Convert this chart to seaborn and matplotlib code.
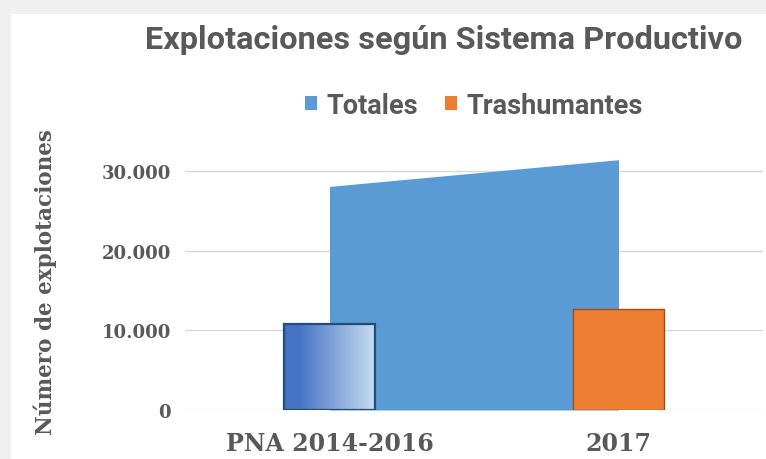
import numpy as np
import pandas as pd
import matplotlib
matplotlib.use('Agg')
import matplotlib.pyplot as plt
from matplotlib.patches import Rectangle, Patch
import seaborn as sns

# data
categories = ['PNA 2014-2016', '2017']
totales = [28050, 31400]
trashumantes = [10800, 12650]
y_ticks = [0, 10000, 20000, 30000]
y_tick_labels = ['0', '10.000', '20.000', '30.000']

sns.set_theme(style='white')
plt.rcParams['font.family'] = ['DejaVu Serif', 'DejaVu Sans']

grey = '#595959'
blue = '#5B9BD5'
orange = '#ED7D31'
narrow = ['Roboto', 'DejaVu Sans']

fig = plt.figure(figsize=(7.66, 4.60), dpi=100, facecolor='#F0F0F0')
# white card over the light grey shadow
fig.patches.append(Rectangle((11 / 766, 0), 1, (460 - 15) / 460, transform=fig.transFigure,
                             facecolor='white', edgecolor='none', zorder=-5))

ax = fig.add_axes([185 / 766, 1 - 411 / 460, (763 - 185) / 766, (411 - 132) / 460])
ax.set_facecolor('none')

df = pd.DataFrame({'periodo': categories, 'Trashumantes': trashumantes})
sns.barplot(data=df, x='periodo', y='Trashumantes', color=orange, width=0.316,
            saturation=1, ax=ax, zorder=3)

bars = ax.patches
# first bar: blue gradient fill, dark blue edge
b0 = bars[0]
b0.set_facecolor('none')
b0.set_edgecolor('#1F4E79')
b0.set_linewidth(1.6)
b0.set_zorder(4)
x0, w, h = b0.get_x(), b0.get_width(), b0.get_height()
grad = np.linspace(0, 1, 256).reshape(1, -1)
cmap = matplotlib.colors.LinearSegmentedColormap.from_list(
    'g', [(0, '#4472C4'), (0.15, '#4472C4'), (1, '#C8DDF1')])
im = ax.imshow(grad, extent=[x0, x0 + w, 0, h], aspect='auto', cmap=cmap, zorder=3)
im.set_clip_path(b0)
bars[1].set_edgecolor('#A34A16')
bars[1].set_linewidth(1.0)

# Totales as area between the two categories
ax.fill_between([0, 1], 0, totales, color=blue, linewidth=0, zorder=2)

ax.set_xlim(-0.5, 1.5)
ax.set_ylim(0, 35000)
ax.set_yticks(y_ticks)
ax.set_yticklabels(y_tick_labels)
ax.yaxis.grid(True, color='#D9D9D9', linewidth=1.0, zorder=0)
ax.set_axisbelow(True)
for s in ax.spines.values():
    s.set_visible(False)
ax.tick_params(axis='both', length=0)
ax.tick_params(axis='y', pad=10, labelsize=13, labelcolor=grey)
ax.tick_params(axis='x', pad=15, labelsize=17, labelcolor=grey)
for t in ax.get_yticklabels() + ax.get_xticklabels():
    t.set_fontweight('heavy')
ax.set_xlabel('')
ax.set_ylabel('')

fig.text(45 / 766, 1 - 282 / 460, 'Número de explotaciones', rotation=90, ha='center', va='center',
         fontsize=15.5, fontweight='heavy', color=grey)

fig.text(444 / 766, 1 - 40 / 460, 'Explotaciones según Sistema Productivo', ha='center', va='center',
         fontsize=23.4, fontweight='bold', color=grey, family=narrow)

handles = [Patch(facecolor=blue, edgecolor='none', label='Totales'),
           Patch(facecolor=orange, edgecolor='none', label='Trashumantes')]
leg = fig.legend(handles=handles, loc='center', bbox_to_anchor=(474 / 766, 1 - 106 / 460), ncol=2,
                 frameon=False, handlelength=0.45, handleheight=0.45, handletextpad=0.35, columnspacing=1.0,
                 prop={'family': narrow, 'weight': 'bold', 'size': 19.5})
for t in leg.get_texts():
    t.set_color(grey)

fig.savefig('out.png', dpi=100, facecolor=fig.get_facecolor())
